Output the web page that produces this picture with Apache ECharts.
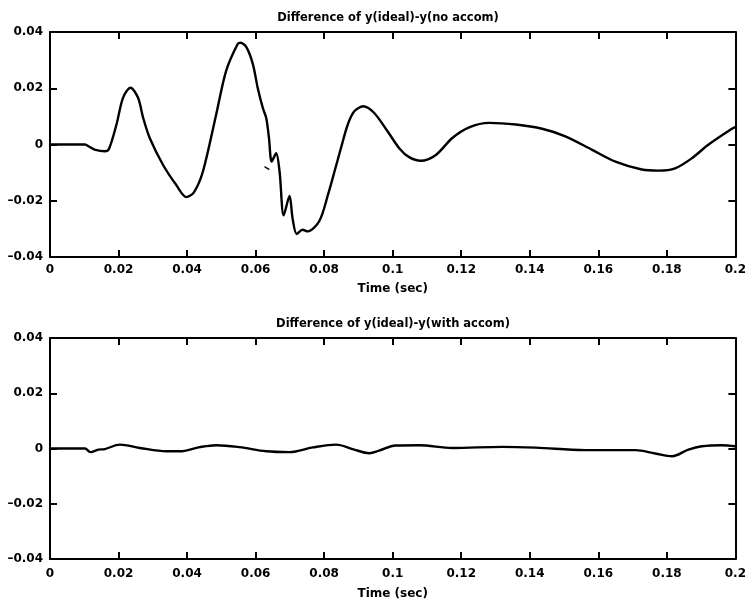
<!DOCTYPE html>
<html>
<head>
<meta charset="utf-8">
<script src="https://cdn.jsdelivr.net/npm/echarts@6/dist/echarts.min.js"></script>
<style>
html,body{margin:0;padding:0;background:#fff;}
#chart{width:749px;height:602px;}
</style>
</head>
<body>
<div id="chart"></div>
<script>
// ---- data ----
var titleTop = "Difference of y(ideal)-y(no accom)";
var titleBottom = "Difference of y(ideal)-y(with accom)";
var xAxisName = "Time (sec)";
var xTicks = [0, 0.02, 0.04, 0.06, 0.08, 0.1, 0.12, 0.14, 0.16, 0.18, 0.2];
var yTicks = [-0.04, -0.02, 0, 0.02, 0.04];

var timeTop = [0, 0.005, 0.0102, 0.0115, 0.0130, 0.0160, 0.0172, 0.0194, 0.0213, 0.0235,
  0.0257, 0.0272, 0.0291, 0.0330, 0.0369, 0.0398, 0.0420, 0.0446, 0.0485, 0.0514, 0.0548,
  0.0556, 0.0573, 0.0592, 0.0606, 0.0621, 0.0631, 0.0639, 0.0647, 0.0660, 0.0670, 0.0682,
  0.0699, 0.0708, 0.0720, 0.0737, 0.0752, 0.0786, 0.0812, 0.0830, 0.0849, 0.0869, 0.0888,
  0.0914, 0.0946, 0.0985, 0.1019, 0.1048, 0.1082, 0.1126, 0.1174, 0.1223, 0.1281, 0.1359,
  0.1436, 0.1504, 0.1582, 0.1650, 0.1727, 0.1776, 0.1824, 0.1873, 0.1921, 0.1994, 0.2];
var valueTop = [0, 0, 0, -0.0008, -0.0018, -0.0024, -0.0016, 0.0071, 0.0166, 0.0202,
  0.0166, 0.0094, 0.0023, -0.0073, -0.0145, -0.0187, -0.0170, -0.0097, 0.0107, 0.0262, 0.0358,
  0.0362, 0.0346, 0.0286, 0.0202, 0.0130, 0.0094, 0.0023, -0.0061, -0.0031, -0.0097, -0.0252,
  -0.0183, -0.0264, -0.0318, -0.0303, -0.0309, -0.0272, -0.0175, -0.0097, -0.0013, 0.0071, 0.0118,
  0.0136, 0.0112, 0.0047, -0.0013, -0.0045, -0.0058, -0.0037, 0.0023, 0.0061, 0.0077, 0.0071,
  0.0056, 0.0029, -0.0019, -0.0061, -0.0089, -0.0093, -0.0085, -0.0049, -0.0001, 0.0059, 0.0062];

var timeStray = [0.0626, 0.0640];
var valueStray = [-0.0079, -0.0089];

var timeBottom = [0, 0.005, 0.0102, 0.0118, 0.0141, 0.016, 0.0204, 0.0262, 0.034, 0.0378,
  0.0437, 0.0485, 0.0553, 0.0631, 0.0699, 0.0767, 0.0835, 0.0883, 0.0932, 0.096, 0.1009,
  0.1077, 0.1174, 0.132, 0.1417, 0.1562, 0.1708, 0.1766, 0.1815, 0.1863, 0.1902, 0.196, 0.2];
var valueBottom = [0, 0, 0, -0.0013, -0.0004, -0.0002, 0.0014, 0.0002, -0.0010, -0.0010,
  0.0005, 0.0012, 0.0005, -0.0010, -0.0013, 0.0004, 0.0014, -0.0002, -0.0017, -0.0008, 0.0011,
  0.0012, 0.0002, 0.0006, 0.0003, -0.0006, -0.0006, -0.0018, -0.0028, -0.0004, 0.0008, 0.0012, 0.0008];

function pairs(xs, ys) { return xs.map(function (x, i) { return [x, ys[i]]; }); }

var FONT = "DejaVu Sans";
function fmt(v) {
  var s = String(Math.round(v * 1000) / 1000);
  return s.replace('-', '\u2013');
}
var axisLine = { show: true, onZero: false, lineStyle: { color: '#000', width: 2 } };
var tick = { show: true, inside: true, length: 7, lineStyle: { color: '#000', width: 2 } };
var labelStyle = { color: '#000', fontFamily: FONT, fontWeight: 'bold', fontSize: 12 };

function xAxes(gi, margin, gap) {
  return [
    { type: 'value', gridIndex: gi, min: 0, max: 0.2, interval: 0.02, position: 'bottom',
      axisLine: axisLine, axisTick: tick, splitLine: { show: false },
      axisLabel: Object.assign({ formatter: fmt, margin: margin }, labelStyle),
      name: xAxisName, nameLocation: 'middle', nameGap: gap,
      nameTextStyle: { color: '#000', fontFamily: FONT, fontWeight: 'bold', fontSize: 12 } },
    { type: 'value', gridIndex: gi, min: 0, max: 0.2, interval: 0.02, position: 'top',
      axisLine: axisLine, axisTick: tick, splitLine: { show: false }, axisLabel: { show: false } }
  ];
}
function yAxes(gi) {
  return [
    { type: 'value', gridIndex: gi, min: -0.04, max: 0.04, interval: 0.02, position: 'left',
      axisLine: axisLine, axisTick: tick, splitLine: { show: false },
      axisLabel: Object.assign({ formatter: fmt, margin: 7 }, labelStyle) },
    { type: 'value', gridIndex: gi, min: -0.04, max: 0.04, interval: 0.02, position: 'right',
      axisLine: axisLine, axisTick: tick, splitLine: { show: false }, axisLabel: { show: false } }
  ];
}

var lineStyle = { color: '#000', width: 2.4 };
var chart = echarts.init(document.getElementById('chart'));
chart.setOption({
  backgroundColor: '#fff',
  animation: false,
  title: [
    { text: titleTop, left: 383, top: 7, textAlign: 'center',
      textStyle: { color: '#000', fontFamily: FONT, fontWeight: 'bold', fontSize: 11.5 } },
    { text: titleBottom, left: 388, top: 313, textAlign: 'center',
      textStyle: { color: '#000', fontFamily: FONT, fontWeight: 'bold', fontSize: 11.5 } }
  ],
  grid: [
    { left: 50, top: 32, width: 687, height: 225 },
    { left: 50, top: 338, width: 687, height: 221 }
  ],
  xAxis: xAxes(0, 7, 26).concat(xAxes(1, 9, 29)),
  yAxis: yAxes(0).concat(yAxes(1)),
  series: [
    { type: 'line', xAxisIndex: 0, yAxisIndex: 0, data: pairs(timeTop, valueTop),
      showSymbol: false, smooth: 0.3, lineStyle: lineStyle },
    { type: 'line', xAxisIndex: 0, yAxisIndex: 0, data: pairs(timeStray, valueStray),
      showSymbol: false, lineStyle: { color: '#000', width: 1.5 } },
    { type: 'line', xAxisIndex: 2, yAxisIndex: 2, data: pairs(timeBottom, valueBottom),
      showSymbol: false, smooth: 0.35, lineStyle: lineStyle }
  ]
});
</script>
</body>
</html>
